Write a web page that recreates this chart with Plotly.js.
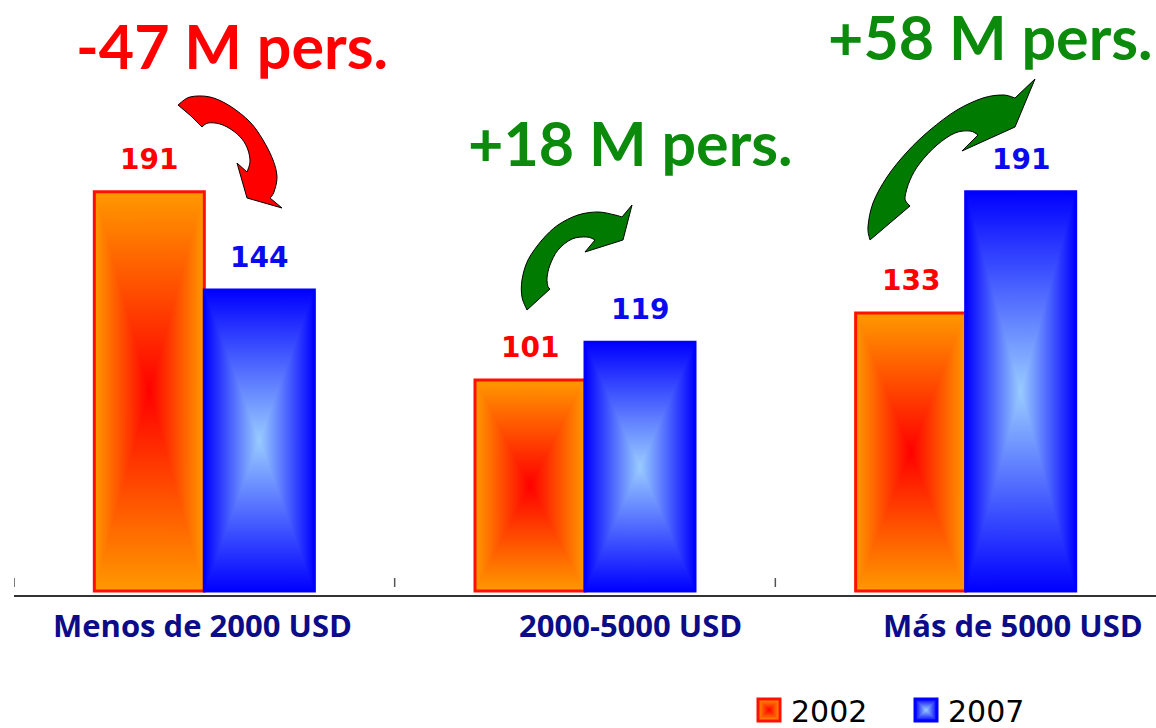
<!DOCTYPE html>
<html><head><meta charset="utf-8">
<script src="https://cdn.plot.ly/plotly-3.0.1.min.js"></script>
<style>html,body{margin:0;padding:0;background:#fff;overflow:hidden}#chart{width:1156px;height:728px}</style>
</head><body><div id="chart"></div>
<script>
// ---------- data ----------
const categories = ['Menos de 2000 USD', '2000-5000 USD', 'Más de 5000 USD'];
const seriesNames = ['2002', '2007'];
const values2002 = [191, 101, 133];
const values2007 = [144, 119, 191];
const changeLabels = ['-47 M pers.', '+18 M pers.', '+58 M pers.'];

// ---------- geometry helpers (layout only) ----------
const W = 1156, H = 728, ML = 14, MB = 133;
const plotW = W - ML, plotH = H - MB;
const px = x => (x - ML) / plotW;       // pixel x -> paper
const py = y => (plotH - y) / plotH;    // pixel y -> paper
const BARGAP = 0.422;
const half = (1 - BARGAP) / 4;          // offset of each bar centre from the category centre

const RED = '#ff0000', BLUE = '#0a0af0', GREEN_TXT = '#0b8a0b', GREEN_ARW = '#007a00', NAVY = '#0c0c88';

// decorative curved arrows (pixel outlines; runs are smoothed, single points are corners)
const arrowRed = [
  [[178,105],[190,97],[210,97],[230,106],[250,122],[263,140],[273,160],[277,177],[274,192],[270,198]],
  [[282,208]], [[247,198]], [[237,163]],
  [[247,172],[250,162],[248,150],[242,139],[232,130],[220,124],[208,123],[202,127]],
  [[191,116]]
];
const arrowGreen1 = [
  [[527,310],[522,297],[522,280],[528,260],[542,240],[558,225],[578,215],[598,212],[615,215],[622,217]],
  [[632,205]], [[623,240]], [[585,252]],
  [[595,240],[587,237],[572,239],[558,250],[550,265],[547,278],[548,287]],
  [[550,289]]
];
const arrowGreen2 = [
  [[870,240],[868,227],[873,203],[887,177],[907,152],[930,130],[957,110],[983,98],[1003,95],[1015,98]],
  [[1035,79]], [[1015,127]], [[962,151]],
  [[978,135],[970,131],[955,133],[937,145],[920,163],[910,180],[905,197],[907,203]],
  [[910,206]]
];

function arrowPath(runs) {
  const P = p => `${px(p[0]).toFixed(5)},${py(p[1]).toFixed(5)}`;
  let d = '';
  runs.forEach((run, ri) => {
    d += (ri === 0 ? 'M' : ' L') + P(run[0]);
    for (let i = 0; i < run.length - 1; i++) {
      const p0 = run[Math.max(i - 1, 0)], p1 = run[i], p2 = run[i + 1], p3 = run[Math.min(i + 2, run.length - 1)];
      const c1 = [p1[0] + (p2[0] - p0[0]) / 6, p1[1] + (p2[1] - p0[1]) / 6];
      const c2 = [p2[0] - (p3[0] - p1[0]) / 6, p2[1] - (p3[1] - p1[1]) / 6];
      d += ' C' + P(c1) + ' ' + P(c2) + ' ' + P(p2);
    }
  });
  return d + ' Z';
}

const traces = [
  {type: 'bar', name: seriesNames[0], x: categories, y: values2002,
   marker: {color: '#ff9900', line: {color: '#ff1000', width: 3}}, hoverinfo: 'skip'},
  {type: 'bar', name: seriesNames[1], x: categories, y: values2007,
   marker: {color: '#3355ff', line: {color: '#0000ff', width: 3}}, hoverinfo: 'skip'}
];

const annotations = [];
// value labels above bars
[values2002, values2007].forEach((vals, s) => {
  vals.forEach((v, i) => {
    annotations.push({x: i + (s === 0 ? -half : half), xref: 'x', y: v, yref: 'y',
      text: String(v), showarrow: false, yanchor: 'bottom', yshift: 14,
      font: {family: 'DejaVu Sans', size: 28, color: s === 0 ? RED : BLUE, weight: 'bold'}});
  });
});
// category labels
const catShift = [-2, 45, 47];
categories.forEach((c, i) => {
  annotations.push({x: i, xref: 'x', xshift: catShift[i], y: py(625), yref: 'paper',
    text: '<b>' + c + '</b>', showarrow: false, yanchor: 'middle',
    font: {family: 'Open Sans', size: 31, color: NAVY}});
});
// change labels
const changePos = [[232, 46], [630, 142], [990, 36]];
const changeCol = [RED, GREEN_TXT, GREEN_TXT];
changeLabels.forEach((t, i) => {
  annotations.push({x: px(changePos[i][0]), xref: 'paper', y: py(changePos[i][1]), yref: 'paper',
    text: '<b>' + t + '</b>', showarrow: false, xanchor: 'center', yanchor: 'middle',
    font: {family: 'Lato', size: 61, color: changeCol[i]}});
});

const shapes = [];
[-0.5, 0.5, 1.5].forEach(b => {
  shapes.push({type: 'line', xref: 'x', yref: 'paper', x0: b, x1: b, y0: py(587), y1: py(578),
    line: {color: '#555', width: 1.5}});
});
[[arrowRed, RED], [arrowGreen1, GREEN_ARW], [arrowGreen2, GREEN_ARW]].forEach(([a, col]) => {
  shapes.push({type: 'path', xref: 'paper', yref: 'paper', path: arrowPath(a),
    fillcolor: col, line: {color: '#000', width: 1}, layer: 'above'});
});

const layout = {
  width: W, height: H,
  margin: {l: ML, r: 0, t: 0, b: MB, pad: 0, autoexpand: false},
  paper_bgcolor: '#fff', plot_bgcolor: '#fff',
  barmode: 'group', bargap: BARGAP, bargroupgap: 0,
  showlegend: true,
  legend: {orientation: 'h', x: px(747), xanchor: 'left', y: py(710), yanchor: 'middle',
    entrywidth: 108, entrywidthmode: 'pixels', itemwidth: 34,
    font: {family: 'DejaVu Sans', size: 30, color: '#000'}, bgcolor: 'rgba(0,0,0,0)', itemclick: false, itemdoubleclick: false},
  xaxis: {type: 'category', showticklabels: false, ticks: '', showgrid: false, zeroline: false,
    showline: true, linecolor: '#333', linewidth: 2, range: [-0.5, 2.5], fixedrange: true},
  yaxis: {range: [-1.9, 282.8], visible: false, showgrid: false, zeroline: false, fixedrange: true},
  annotations: annotations,
  shapes: shapes,
  hovermode: false
};

const NS = 'http://www.w3.org/2000/svg';
function mk(tag, attrs, parent) {
  const e = document.createElementNS(NS, tag);
  for (const k in attrs) e.setAttribute(k, attrs[k]);
  parent.appendChild(e);
  return e;
}
function buildRectGradient(defs, id, edge, center) {
  if (defs.querySelector('#' + id)) return;
  const dirs = {L: [0, 0, 1, 0], R: [1, 0, 0, 0], T: [0, 0, 0, 1], B: [0, 1, 0, 0]};
  for (const d in dirs) {
    const g = mk('linearGradient', {id: id + d, x1: dirs[d][0], y1: dirs[d][1], x2: dirs[d][2], y2: dirs[d][3]}, defs);
    mk('stop', {offset: 0, 'stop-color': edge}, g);
    mk('stop', {offset: 1, 'stop-color': center}, g);
  }
  const p = mk('pattern', {id: id, patternUnits: 'objectBoundingBox', patternContentUnits: 'objectBoundingBox',
    x: 0, y: 0, width: 1, height: 1}, defs);
  mk('rect', {x: 0, y: 0, width: 1, height: 1, fill: edge}, p);
  const tri = {L: '0,0 0.5,0.5 0,1', R: '1,0 0.5,0.5 1,1', T: '0,0 1,0 0.5,0.5', B: '0,1 1,1 0.5,0.5'};
  for (const d in tri) mk('polygon', {points: tri[d], fill: `url(#${id}${d})`, 'shape-rendering': 'crispEdges'}, p);
}
const gradIds = ['gradOrange', 'gradBlue'];
function decorate(gd) {
  const svg = gd.querySelector('svg.main-svg');
  let defs = svg.querySelector('defs');
  if (!defs) defs = mk('defs', {}, svg);
  buildRectGradient(defs, 'gradOrange', '#ff9900', '#ff0000');
  buildRectGradient(defs, 'gradBlue', '#0000ff', '#99ccff');
  gd.querySelectorAll('.barlayer .trace').forEach((t, i) => {
    t.querySelectorAll('path').forEach(p => { p.style.fill = `url(#${gradIds[i]})`; });
  });
  gd.querySelectorAll('.legend .traces').forEach((t, i) => {
    t.querySelectorAll('.legendpoints path').forEach(p => {
      p.setAttribute('d', 'M11,11H-11V-11H11Z');
      p.style.fill = `url(#${gradIds[i]})`;
    });
  });
}

const gd = document.getElementById('chart');
Plotly.newPlot(gd, traces, layout, {displayModeBar: false, staticPlot: true}).then(() => {
  decorate(gd);
  gd.on('plotly_afterplot', () => decorate(gd));
});
</script>
</body></html>
